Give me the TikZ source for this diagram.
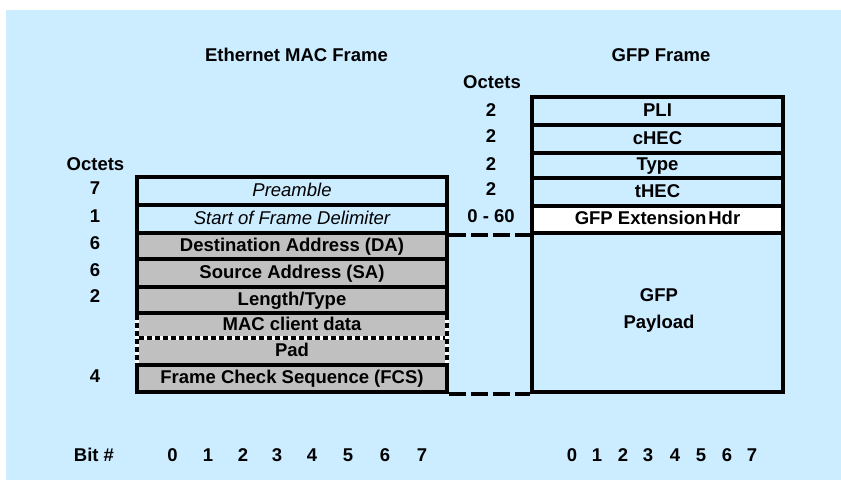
\documentclass[tikz,border=0pt]{standalone}
\usepackage{fontspec}
\setmainfont{Liberation Sans}
\definecolor{paneblue}{RGB}{204,236,255}
\definecolor{fieldgray}{RGB}{192,192,192}
\begin{document}
\begin{tikzpicture}[x=1pt,y=-1pt,
  every node/.style={font=\fontsize{18.5}{22}\selectfont\bfseries,
    inner sep=0pt, text height=13.2pt, text depth=3pt},
  fieldbox/.style={draw=black, line width=3.5pt},
  fillonly/.style={draw=none},
  macrow/.style={minimum width=310pt},
  gfprow/.style={minimum width=251pt},
  plainital/.style={font=\fontsize{18.5}{22}\selectfont\mdseries\itshape},
  linkdash/.style={draw=black, line width=3.8pt, dash pattern=on 17pt off 5pt},
  sidewhite/.style={draw=white, line width=3.5pt},
  sidedash/.style={draw=black, line width=3.5pt, dash pattern=on 5pt off 3pt}
]
\useasboundingbox (0,0) rectangle (841,480);
\fill[paneblue] (6,10) rectangle (841,480);

% titles
\node (ethtitle) at (296.5,56.5) {Ethernet MAC Frame};
\node (gfptitle) at (661,56.5) {GFP Frame};
\node (octl) at (95.5,165) {Octets};
\node (octr) at (492,83) {Octets};

% Ethernet MAC frame: the two optional rows are filled first
\node[fillonly, macrow, fill=fieldgray, minimum height=25pt] (mac) at (292,325.5) {MAC client data};
\node[fillonly, macrow, fill=fieldgray, minimum height=27pt] (pad) at (292,351.5) {Pad};
\node[fieldbox, macrow, fill=paneblue, minimum height=28pt] (pre) at (292,191) {\mdseries\itshape Preamble};
\node[fieldbox, macrow, fill=paneblue, minimum height=28pt] (sfd) at (292,219) {\mdseries\itshape Start of Frame Delimiter};
\node[fieldbox, macrow, fill=fieldgray, minimum height=26pt] (da) at (292,246) {Destination Address (DA)};
\node[fieldbox, macrow, fill=fieldgray, minimum height=28pt] (sa) at (292,273) {Source Address (SA)};
\node[fieldbox, macrow, fill=fieldgray, minimum height=26pt] (lt) at (292,300) {Length/Type};
\node[fieldbox, macrow, fill=fieldgray, minimum height=27pt] (fcs) at (292,378.5) {Frame Check Sequence (FCS)};

% dashed borders of the optional rows
\draw[sidewhite, shorten <=1.75pt, shorten >=1.75pt] (mac.north west) -- (pad.south west);
\draw[sidewhite, shorten <=1.75pt, shorten >=1.75pt] (mac.north east) -- (pad.south east);
\draw[sidewhite, shorten <=1.75pt, shorten >=1.75pt] (mac.south west) -- (mac.south east);
\draw[sidedash, shorten <=1.75pt, shorten >=1.75pt] (mac.north west) -- (pad.south west);
\draw[sidedash, shorten <=1.75pt, shorten >=1.75pt] (mac.north east) -- (pad.south east);
\draw[sidedash, shorten <=1.75pt, shorten >=1.75pt] (mac.south west) -- (mac.south east);

% Ethernet octet counts
\node (n1) at (95,189.5) {7};
\node (n2) at (95,217) {1};
\node (n3) at (95,244.5) {6};
\node (n4) at (95,271.5) {6};
\node (n5) at (95,297.5) {2};
\node (n6) at (95,377) {4};

% GFP frame
\node[fieldbox, gfprow, fill=paneblue, minimum height=28pt] (pli) at (657.5,111) {PLI};
\node[fieldbox, gfprow, fill=paneblue, minimum height=28pt] (chec) at (657.5,139) {cHEC};
\node[fieldbox, gfprow, fill=paneblue, minimum height=25pt] (type) at (657.5,165.5) {Type};
\node[fieldbox, gfprow, fill=paneblue, minimum height=28pt] (thec) at (657.5,192) {tHEC};
\node[fieldbox, gfprow, fill=white, minimum height=27pt] (ext) at (657.5,219.5) {GFP Extension\kern2pt Hdr};
\node[fieldbox, gfprow, fill=paneblue, minimum height=159pt] (payload) at (657.5,312.5) {};
\node (payA) at (659,296.5) {GFP};
\node (payB) at (659,323.5) {Payload};

% GFP octet counts
\node (g1) at (491,111) {2};
\node (g2) at (491,137.5) {2};
\node (g3) at (491,165) {2};
\node (g4) at (491,190) {2};
\node (g5) at (491,217.5) {0 - 60};

% dashed links between the frames
\draw[linkdash] (sfd.south east) -- (ext.south west);
\draw[linkdash] (fcs.south east) -- (payload.south west);

% bit numbering
\node (bit) at (94,456) {Bit \#};
\foreach \b/\x in {0/172.5,1/208,2/243,3/277,4/312,5/348,6/385,7/422}
  \node (lb\b) at (\x,456) {\b};
\foreach \b/\x in {0/572,1/597,2/623,3/648,4/675,5/701,6/727,7/752}
  \node (rb\b) at (\x,456) {\b};
\end{tikzpicture}
\end{document}
